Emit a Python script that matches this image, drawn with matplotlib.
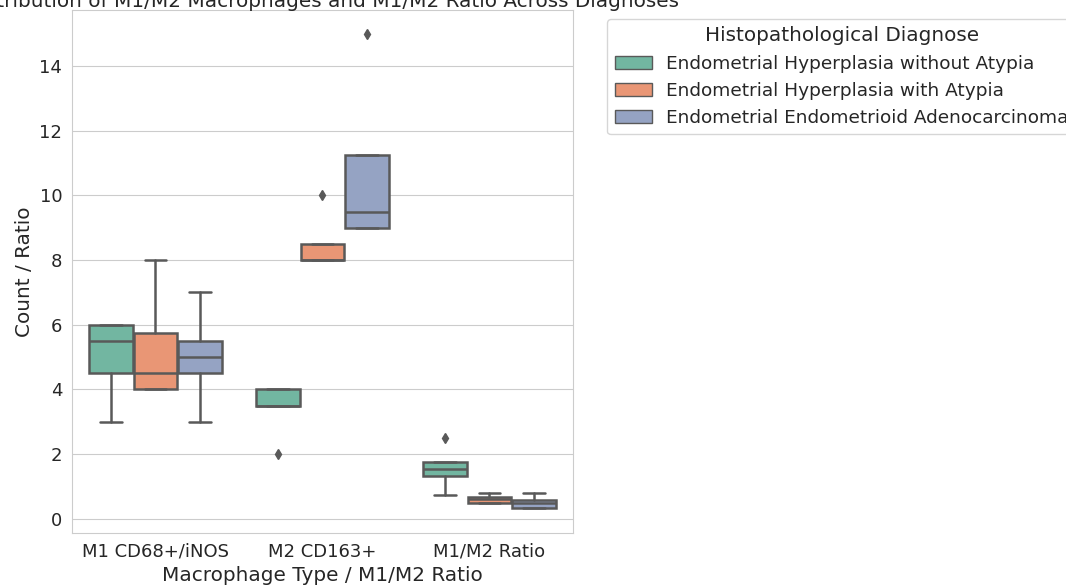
import colorsys

import matplotlib
matplotlib.use("Agg")
import matplotlib.pyplot as plt
import matplotlib.patches as mpatches
import seaborn as sns

# Categories on the x axis and the hue levels
CATEGORIES = ["M1 CD68+/iNOS", "M2 CD163+", "M1/M2 Ratio"]
DIAGNOSES = [
    "Endometrial Hyperplasia without Atypia",
    "Endometrial Hyperplasia with Atypia",
    "Endometrial Endometrioid Adenocarcinoma",
]

# Box statistics, one list per diagnosis (order = CATEGORIES)
WO_Q1 = [4.5, 3.5, 1.33]
WO_MED = [5.5, 3.5, 1.55]
WO_Q3 = [6.0, 4.0, 1.75]
WO_LO = [3.0, 3.5, 0.75]
WO_HI = [6.0, 4.0, 1.75]
WO_FLIERS = [[], [2.0], [2.5]]

WA_Q1 = [4.0, 8.0, 0.5]
WA_MED = [4.5, 8.0, 0.6]
WA_Q3 = [5.75, 8.5, 0.67]
WA_LO = [4.0, 8.0, 0.5]
WA_HI = [8.0, 8.5, 0.8]
WA_FLIERS = [[], [10.0], []]

AD_Q1 = [4.5, 9.0, 0.33]
AD_MED = [5.0, 9.5, 0.48]
AD_Q3 = [5.5, 11.25, 0.58]
AD_LO = [3.0, 9.0, 0.33]
AD_HI = [7.0, 11.25, 0.8]
AD_FLIERS = [[], [15.0], []]

STATS = [
    (WO_Q1, WO_MED, WO_Q3, WO_LO, WO_HI, WO_FLIERS),
    (WA_Q1, WA_MED, WA_Q3, WA_LO, WA_HI, WA_FLIERS),
    (AD_Q1, AD_MED, AD_Q3, AD_LO, AD_HI, AD_FLIERS),
]

sns.set_style("whitegrid")
plt.rcParams["font.family"] = ["DejaVu Sans"]

colors = [sns.desaturate(c, 0.75) for c in sns.color_palette("Set2", 3)]
lum = min(colorsys.rgb_to_hls(*c)[1] for c in colors) * 0.6
gray = (lum, lum, lum)
LW = 1.8

fig = plt.figure(figsize=(10.66, 5.86), dpi=100)
ax = fig.add_axes([0.0675, 0.0904, 0.470, 0.893])

n = len(DIAGNOSES)
each = 0.8 / n
for j, (q1, med, q3, lo, hi, fl) in enumerate(STATS):
    offset = (j - (n - 1) / 2) * each
    bxp_stats = []
    for i in range(len(CATEGORIES)):
        bxp_stats.append(dict(q1=q1[i], med=med[i], q3=q3[i],
                              whislo=lo[i], whishi=hi[i], fliers=fl[i]))
    positions = [i + offset for i in range(len(CATEGORIES))]
    ax.bxp(bxp_stats, positions=positions, widths=each * 0.98,
           patch_artist=True, manage_ticks=False,
           boxprops=dict(facecolor=colors[j], edgecolor=gray, linewidth=LW),
           medianprops=dict(color=gray, linewidth=LW),
           whiskerprops=dict(color=gray, linewidth=LW),
           capprops=dict(color=gray, linewidth=LW),
           flierprops=dict(marker="d", markerfacecolor=gray, markeredgecolor=gray,
                           markersize=5.5, linestyle="none"))

ax.set_xlim(-0.5, len(CATEGORIES) - 0.5)
ax.set_ylim(-0.44, 15.74)
ax.set_xticks(range(len(CATEGORIES)))
ax.set_xticklabels(CATEGORIES)
ax.set_yticks(range(0, 15, 2))
ax.xaxis.grid(False)
ax.tick_params(labelsize=13)
ax.set_xlabel("Macrophage Type / M1/M2 Ratio", fontsize=14.4, labelpad=4)
ax.set_ylabel("Count / Ratio", fontsize=14.4)
ax.set_title("Distribution of M1/M2 Macrophages and M1/M2 Ratio Across Diagnoses",
             fontsize=14.4, pad=2)

handles = [mpatches.Patch(facecolor=c, edgecolor=gray, label=d)
           for c, d in zip(colors, DIAGNOSES)]
ax.legend(handles=handles, title="Histopathological Diagnose",
          bbox_to_anchor=(1.05, 1), loc="upper left",
          fontsize=13.3, title_fontsize=14.4)

fig.savefig("out.png", dpi=100)
